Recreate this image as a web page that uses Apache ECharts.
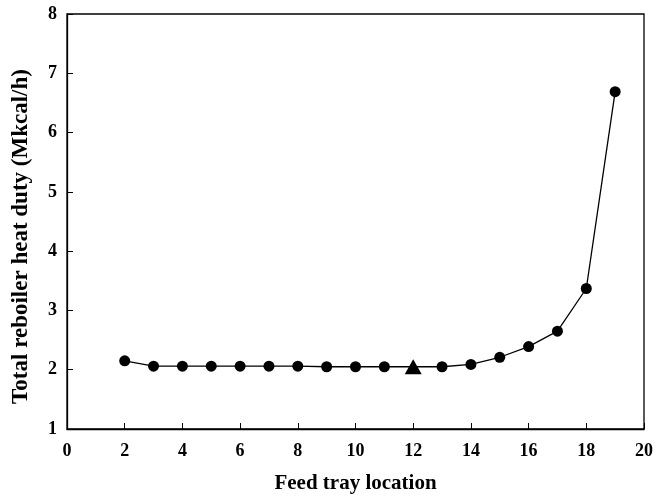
<!DOCTYPE html>
<html lang="en">
<head>
    <meta charset="UTF-8">
    <title>Total reboiler heat duty vs feed tray location</title>
    <script src="https://cdn.jsdelivr.net/npm/echarts@6.0.0/dist/echarts.min.js"></script>
    <style>
        html, body { margin: 0; padding: 0; background: #fff; }
        #chart { width: 672px; height: 497px; }
    </style>
</head>
<body>
    <div id="chart"></div>
    <script>
        // feed tray locations and total reboiler heat duty (Mkcal/h)
        const trays = [2, 3, 4, 5, 6, 7, 8, 9, 10, 11, 12, 13, 14, 15, 16, 17, 18, 19];
        const duty = [2.15, 2.06, 2.06, 2.06, 2.06, 2.06, 2.06, 2.05, 2.05, 2.05, 2.05, 2.05, 2.09, 2.21, 2.39, 2.65, 3.37, 6.69];
        const optimumTray = 12;

        const font = 'Liberation Serif';
        const chart = echarts.init(document.getElementById('chart'));

        const seriesData = trays.map((t, i) => {
            if (t === optimumTray) {
                return { value: [t, duty[i]], symbol: 'triangle', symbolSize: [17, 15] };
            }
            return [t, duty[i]];
        });

        chart.setOption({
            animation: false,
            grid: {
                left: 67, right: 28, top: 14, bottom: 68,
                outerBoundsMode: 'none',
                show: true, borderColor: '#000', borderWidth: 1.3, backgroundColor: 'transparent'
            },
            xAxis: {
                type: 'value',
                min: 0, max: 20, interval: 2,
                name: 'Feed tray location',
                nameLocation: 'middle',
                nameGap: 44,
                nameTextStyle: { fontFamily: font, fontWeight: 'bold', fontSize: 21, color: '#000' },
                axisLine: { lineStyle: { color: '#000', width: 1.3 } },
                axisTick: { inside: true, length: 6, lineStyle: { color: '#000' } },
                axisLabel: { fontFamily: font, fontWeight: 'bold', fontSize: 18, color: '#000', margin: 13 },
                splitLine: { show: false }
            },
            yAxis: {
                type: 'value',
                min: 1, max: 8, interval: 1,
                name: 'Total reboiler heat duty (Mkcal/h)',
                nameLocation: 'middle',
                nameGap: 34,
                nameTextStyle: { fontFamily: font, fontWeight: 'bold', fontSize: 23, color: '#000', padding: [0, 30, 0, 0] },
                axisLine: { lineStyle: { color: '#000', width: 1.3 } },
                axisTick: { inside: true, length: 6, lineStyle: { color: '#000' } },
                axisLabel: { fontFamily: font, fontWeight: 'bold', fontSize: 18, color: '#000', margin: 10 },
                splitLine: { show: false }
            },
            series: [{
                type: 'line',
                data: seriesData,
                symbol: 'circle',
                symbolSize: 11,
                showAllSymbol: true,
                itemStyle: { color: '#000' },
                lineStyle: { color: '#000', width: 1.3 }
            }]
        });
    </script>
</body>
</html>
